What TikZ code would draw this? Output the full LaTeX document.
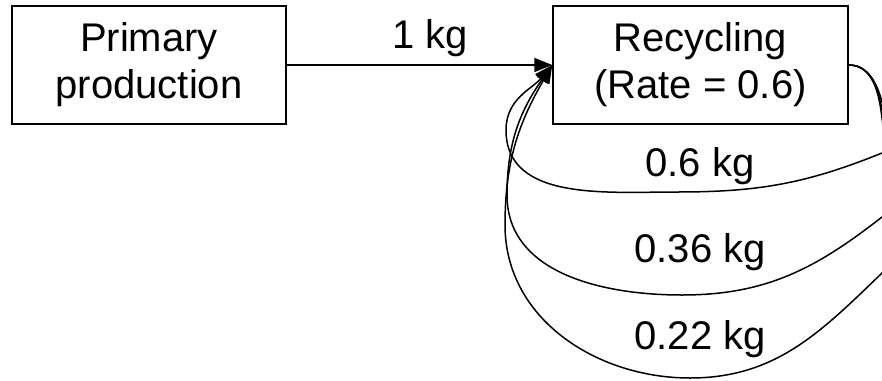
\documentclass[tikz,border=0pt]{standalone}
\usepackage{fontspec}
\setmainfont{Liberation Sans}
\usetikzlibrary{arrows.meta}

\tikzset{
  box/.style={draw, line width=1.5pt, inner sep=0pt, align=center,
              minimum height=118pt, font=\fontsize{40}{47}\selectfont},
  lbl/.style={anchor=base, inner sep=0pt, font=\fontsize{40}{47}\selectfont},
  flow/.style={line width=1.5pt, -{Triangle[length=18pt,width=14pt]}},
}

\begin{document}
\begin{tikzpicture}[x=1pt,y=1pt]
  \clip (0,0) rectangle (882,-380);

  % process boxes
  \node[box, minimum width=274pt] (prim) at (149,-65) {Primary\\production};
  \node[box, minimum width=295pt] (rec)  at (700.5,-65) {Recycling\\(Rate = 0.6)};

  % primary input
  \draw[flow] (prim.east) -- (rec.west);
  \node[lbl] (in) at (430,-48) {1 kg};

  % recycling loops: out of the right side, round underneath, back into the left side
  \draw[flow] (rec.east) to[out=0,in=105] (882,-102)
              to[out=-75,in=22,looseness=1.4] (882,-153)
              to[out=202,in=0] (677,-192)
              to[out=180,in=-90] (506,-130)
              to[out=90,in=-130] (rec.west);
  \draw[flow] (rec.east) to[out=0,in=100] (882,-110)
              to[out=-80,in=38,looseness=1.4] (882,-217)
              to[out=218,in=0] (682,-295)
              to[out=180,in=-90] (507,-195)
              to[out=90,in=-125] (rec.west);
  \draw[flow] (rec.east) to[out=0,in=97] (882,-118)
              to[out=-83,in=44,looseness=1.4] (882,-273)
              to[out=224,in=0] (690,-378)
              to[out=180,in=-90] (505,-225)
              to[out=90,in=-120] (rec.west);

  \node[lbl] (r1) at (700,-176) {0.6 kg};
  \node[lbl] (r2) at (700,-262) {0.36 kg};
  \node[lbl] (r3) at (700,-349) {0.22 kg};
\end{tikzpicture}
\end{document}
